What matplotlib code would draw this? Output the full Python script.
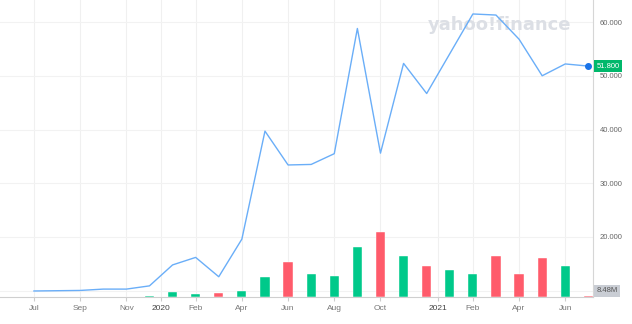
import matplotlib.pyplot as plt
from matplotlib.transforms import blended_transform_factory

# monthly closes, Jul 2019 .. Jul 2021
prices = [9.95, 10.0, 10.05, 10.3, 10.3, 10.9, 14.8, 16.2, 12.6, 19.6,
          39.7, 33.4, 33.5, 35.5, 58.8, 35.6, 52.3, 46.7, 54.1, 61.5,
          61.3, 56.8, 50.0, 52.2, 51.8]
# monthly volume, millions
volumes = [0, 0, 0, 0, 0, 12, 47, 24, 35, 54,
           190, 330, 218, 200, 475, 620, 392, 295, 254, 218,
           387, 218, 370, 295, 8.48]
tick_pos = [0, 2, 4, 5.5, 7, 9, 11, 13, 15, 17.5, 19, 21, 23]
tick_labels = ['Jul', 'Sep', 'Nov', '2020', 'Feb', 'Apr', 'Jun',
               'Aug', 'Oct', '2021', 'Feb', 'Apr', 'Jun']
price_ticks = [20, 30, 40, 50, 60]

GREEN = '#00c98a'
RED = '#ff5b6b'
BLUE = '#6aaef8'
PLO, PHI = 8.83, 64.1
VMAX = 297 * 9.5

idx = list(range(len(prices)))
colors = []
for i in idx:
    if i > 0 and prices[i] < prices[i - 1]:
        colors.append(RED)
    else:
        colors.append(GREEN)

fig = plt.figure(figsize=(6.32, 3.24), dpi=100)
rect = [0, 27 / 324, 593 / 632, 297 / 324]

# volume underneath, grid lives here so bars sit on top of it
axv = fig.add_axes(rect)
axv.set_ylim(0, VMAX)
axv.set_xlim(-1.47, 24.2)
for t in tick_pos:
    axv.axvline(t, color='#f0f0f0', linewidth=0.8, zorder=0)
for v in [10] + price_ticks:
    axv.axhline((v - PLO) / (PHI - PLO) * VMAX, color='#f2f2f2', linewidth=0.8, zorder=0)
axv.bar(idx, volumes, width=0.4, color=colors, edgecolor='white', linewidth=0.3, zorder=2)
axv.axis('off')

# price on top
ax = fig.add_axes(rect)
ax.patch.set_visible(False)
ax.text(0.843, 0.916, 'yahoo!finance', transform=ax.transAxes, ha='center', va='center',
        fontsize=13, fontweight='bold', color='#dcdfe5', zorder=1)
ax.plot(idx, prices, color=BLUE, linewidth=1.0, zorder=3)
ax.plot(idx[-1], prices[-1], 'o', color='#1a73e8', markersize=4, zorder=4)
ax.set_xlim(-1.47, 24.2)
ax.set_ylim(PLO, PHI)

ax.yaxis.tick_right()
ax.set_yticks(price_ticks)
ax.set_yticklabels(['%.3f' % v for v in price_ticks], family='Liberation Sans',
                   fontsize=5.5, color='#666666')
ax.tick_params(axis='y', length=0, pad=5)

ax.set_xticks(tick_pos)
ax.set_xticklabels(tick_labels, family='Liberation Sans', fontsize=6, color='#777777')
for lab in ax.get_xticklabels():
    if lab.get_text() in ('2020', '2021'):
        lab.set_color('#444444')
ax.tick_params(axis='x', length=3, color='#cccccc', pad=3)

for s in ['top', 'left']:
    ax.spines[s].set_visible(False)
ax.spines['bottom'].set_color('#cfcfcf')
ax.spines['right'].set_color('#d6d6d6')

tr = blended_transform_factory(ax.transAxes, ax.transData)
ax.text(1.006, prices[-1], '%.3f' % prices[-1], transform=tr, ha='left', va='center',
        family='Liberation Sans', fontsize=5.5, color='white', zorder=5,
        bbox=dict(boxstyle='square,pad=0.35', facecolor='#00b86b', edgecolor='none'))
ax.text(1.006, 10.0, '%.2fM' % volumes[-1], transform=tr, ha='left', va='center',
        family='Liberation Sans', fontsize=5.5, color='#555555', zorder=5,
        bbox=dict(boxstyle='square,pad=0.35', facecolor='#c9cdd4', edgecolor='none'))

fig.savefig('out.png', dpi=100)
